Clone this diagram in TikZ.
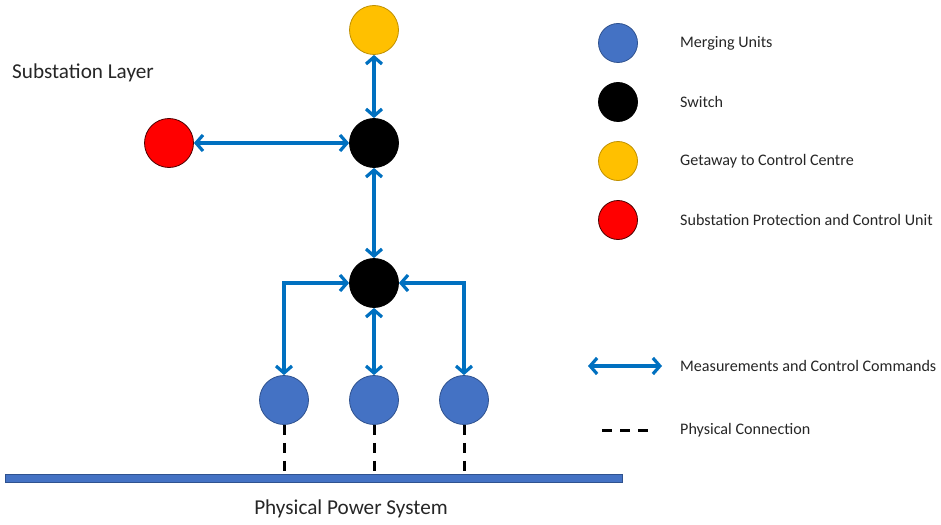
\documentclass[tikz,border=0pt]{standalone}
\usepackage{fontspec}
\setmainfont{Carlito}
\usepackage{tikz}
\usetikzlibrary{arrows.meta, positioning}
\definecolor{mublue}{RGB}{68,114,196}
\definecolor{muedge}{RGB}{47,82,143}
\definecolor{gwyellow}{RGB}{255,192,0}
\definecolor{gwedge}{RGB}{191,144,0}
\definecolor{linkblue}{RGB}{0,112,192}
\definecolor{txtgray}{RGB}{38,38,38}
\begin{document}
\begin{tikzpicture}[x=1pt, y=-1pt,
    dev/.style={circle, draw, line width=0.8pt, minimum size=49pt, inner sep=0pt},
    legdev/.style={circle, draw, line width=0.8pt, minimum size=39pt, inner sep=0pt},
    mu/.style={fill=mublue, draw=muedge},
    sw/.style={fill=black, draw=black},
    gw/.style={fill=gwyellow, draw=gwedge},
    spcu/.style={fill=red, draw=black!70!red},
    datalink/.style={draw=linkblue, line width=3.2pt, {Straight Barb[length=7pt,width=16pt]}-{Straight Barb[length=7pt,width=16pt]}},
    physlink/.style={draw=black, line width=3pt, dash pattern=on 10pt off 8pt},
    lbl/.style={text=txtgray, font=\fontsize{16.1}{18}\selectfont, anchor=west, inner sep=0pt}]
  \useasboundingbox (0,0) rectangle (941,524);
  % Devices
  \node[dev, gw] (gate) at (374,30) {};
  \node[dev, sw] (swtop) at (374,143) {};
  \node[dev, spcu] (prot) at (169,143) {};
  \node[dev, sw] (swbay) at (374,283) {};
  \foreach \k/\xx in {1/284, 2/374, 3/464}
    \node[dev, mu] (mu\k) at (\xx,400) {};
  % Power system bus
  \node[draw=muedge, fill=mublue, line width=0.6pt, minimum width=617pt, minimum height=8pt, inner sep=0pt] (bus) at (313.5,478.5) {};
  \node[text=txtgray, font=\fontsize{21.2}{23}\selectfont] (bustxt) at (351,509) {Physical Power System};
  \node[text=txtgray, font=\fontsize{21.2}{23}\selectfont, anchor=west, inner sep=0pt] (layer) at (12,73) {Substation Layer};
  % Communication links
  \draw[datalink] (gate) -- (swtop);
  \draw[datalink] (prot) -- (swtop);
  \draw[datalink] (swtop) -- (swbay);
  \draw[datalink] (swbay) -| (mu1);
  \draw[datalink] (swbay) -- (mu2);
  \draw[datalink] (swbay) -| (mu3);
  % Physical connections
  \foreach \k in {1,2,3}
    \draw[physlink] (mu\k) -- (mu\k |- bus.north);
  % Legend
  \node[legdev, mu] (legmu) at (618,43) {};
  \node[legdev, sw] (legsw) at (618,102) {};
  \node[legdev, gw] (leggw) at (618,161) {};
  \node[legdev, spcu] (legprot) at (618,220) {};
  \node[lbl] (txtmu) at (680,43) {Merging Units};
  \node[lbl] (txtsw) at (680,102) {Switch};
  \node[lbl] (txtgw) at (680,161) {Getaway to Control Centre};
  \node[lbl] (txtprot) at (680,220) {Substation Protection and Control Unit};
  \coordinate (legaa) at (588,366);
  \coordinate (legab) at (662,366);
  \draw[datalink] (legaa) -- (legab);
  \node[lbl] (txtdata) at (680,366) {Measurements and Control Commands};
  \coordinate (legpa) at (602,430);
  \coordinate (legpb) at (648,430);
  \draw[physlink] (legpa) -- (legpb);
  \node[lbl] (txtphys) at (680,430) {Physical Connection};
\end{tikzpicture}
\end{document}
